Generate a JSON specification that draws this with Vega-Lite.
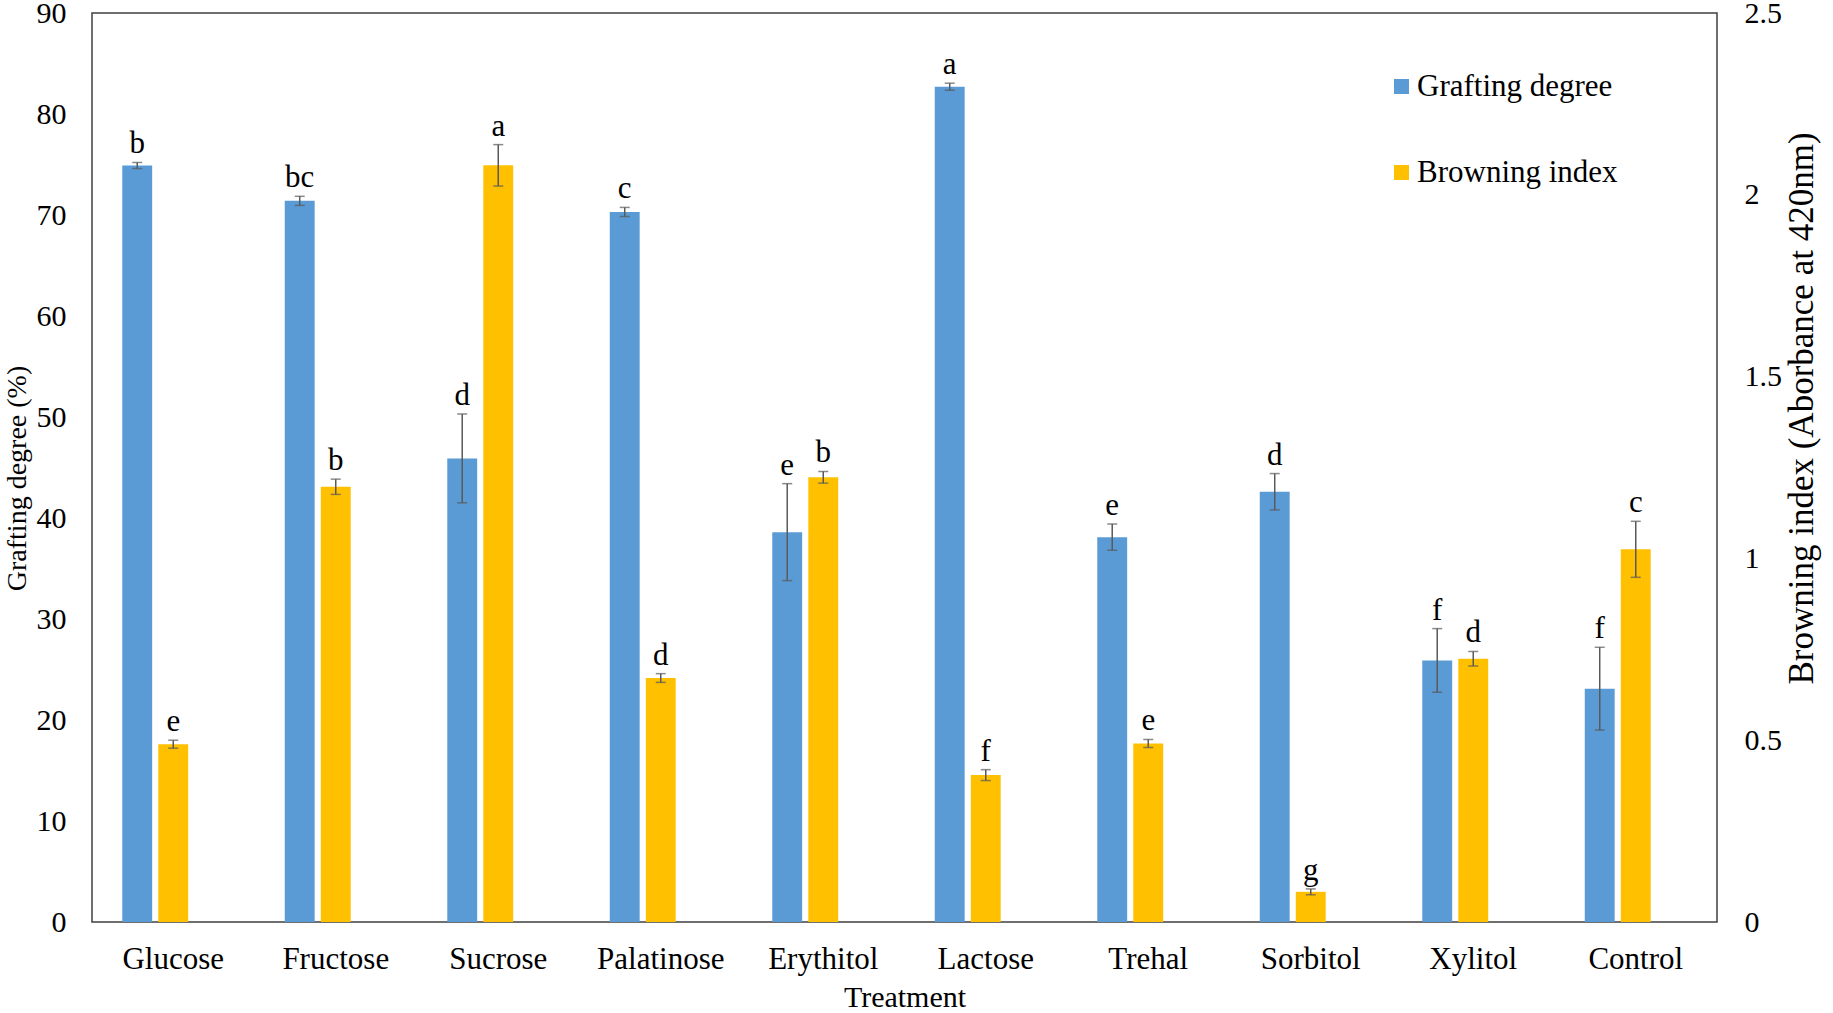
{
  "$schema": "https://vega.github.io/schema/vega-lite/v6.json",
  "width": 1625,
  "height": 909,
  "autosize": {"type": "none"},
  "padding": {"left": 92, "top": 13, "right": 116, "bottom": 91},
  "background": "white",
  "config": {
    "view": {"stroke": "#404040", "strokeWidth": 1.5},
    "font": "Liberation Serif",
    "axis": {"labelFont": "Liberation Serif", "titleFont": "Liberation Serif", "labelColor": "#000", "titleColor": "#000", "titleFontWeight": "normal", "ticks": false, "domain": false, "grid": false}
  },
  "data": {
    "values": [
      {"treatment": "Glucose", "series": "Grafting degree", "value": 74.9, "lo": 74.6, "hi": 75.2, "letter": "b"},
      {"treatment": "Fructose", "series": "Grafting degree", "value": 71.4, "lo": 70.95, "hi": 71.85, "letter": "bc"},
      {"treatment": "Sucrose", "series": "Grafting degree", "value": 45.9, "lo": 41.5, "hi": 50.3, "letter": "d"},
      {"treatment": "Palatinose", "series": "Grafting degree", "value": 70.3, "lo": 69.85, "hi": 70.75, "letter": "c"},
      {"treatment": "Erythitol", "series": "Grafting degree", "value": 38.6, "lo": 33.8, "hi": 43.4, "letter": "e"},
      {"treatment": "Lactose", "series": "Grafting degree", "value": 82.7, "lo": 82.35, "hi": 83.05, "letter": "a"},
      {"treatment": "Trehal", "series": "Grafting degree", "value": 38.1, "lo": 36.8, "hi": 39.4, "letter": "e"},
      {"treatment": "Sorbitol", "series": "Grafting degree", "value": 42.6, "lo": 40.8, "hi": 44.4, "letter": "d"},
      {"treatment": "Xylitol", "series": "Grafting degree", "value": 25.9, "lo": 22.75, "hi": 29.05, "letter": "f"},
      {"treatment": "Control", "series": "Grafting degree", "value": 23.1, "lo": 19.0, "hi": 27.2, "letter": "f"},
      {"treatment": "Glucose", "series": "Browning index", "value": 0.489, "lo": 0.478, "hi": 0.5, "letter": "e"},
      {"treatment": "Fructose", "series": "Browning index", "value": 1.197, "lo": 1.176, "hi": 1.218, "letter": "b"},
      {"treatment": "Sucrose", "series": "Browning index", "value": 2.081, "lo": 2.024, "hi": 2.138, "letter": "a"},
      {"treatment": "Palatinose", "series": "Browning index", "value": 0.671, "lo": 0.659, "hi": 0.683, "letter": "d"},
      {"treatment": "Erythitol", "series": "Browning index", "value": 1.223, "lo": 1.207, "hi": 1.239, "letter": "b"},
      {"treatment": "Lactose", "series": "Browning index", "value": 0.404, "lo": 0.389, "hi": 0.419, "letter": "f"},
      {"treatment": "Trehal", "series": "Browning index", "value": 0.491, "lo": 0.48, "hi": 0.502, "letter": "e"},
      {"treatment": "Sorbitol", "series": "Browning index", "value": 0.083, "lo": 0.075, "hi": 0.091, "letter": "g"},
      {"treatment": "Xylitol", "series": "Browning index", "value": 0.724, "lo": 0.704, "hi": 0.744, "letter": "d"},
      {"treatment": "Control", "series": "Browning index", "value": 1.025, "lo": 0.948, "hi": 1.102, "letter": "c"}
    ]
  },
  "encoding": {
    "x": {
      "field": "treatment", "type": "nominal",
      "scale": {"domain": ["Glucose", "Fructose", "Sucrose", "Palatinose", "Erythitol", "Lactose", "Trehal", "Sorbitol", "Xylitol", "Control"], "paddingInner": 0, "paddingOuter": 0},
      "axis": {"title": "Treatment", "labelAngle": 0, "labelFontSize": 31, "labelPadding": 22, "titleFontSize": 30, "titleY": 84, "titleBaseline": "alphabetic"}
    },
    "xOffset": {
      "field": "series", "type": "nominal",
      "scale": {"domain": ["Grafting degree", "Browning index", "pad"], "paddingInner": 0.17, "paddingOuter": 0.84}
    }
  },
  "layer": [
    {
      "transform": [{"filter": "datum.series === 'Grafting degree'"}],
      "layer": [
        {
          "mark": {"type": "bar"},
          "encoding": {
            "y": {"field": "value", "type": "quantitative", "scale": {"domain": [0, 90], "nice": false},
              "axis": {"title": "Grafting degree (%)", "values": [0, 10, 20, 30, 40, 50, 60, 70, 80, 90], "labelFontSize": 30, "labelPadding": 26, "titleFontSize": 28, "titleAngle": -90, "titleX": -61, "titleY": 465, "titleBaseline": "bottom"}},
            "color": {"field": "series", "type": "nominal",
              "scale": {"domain": ["Grafting degree", "Browning index"], "range": ["#5B9BD5", "#FFC000"]},
              "legend": {"orient": "none", "legendX": 1294, "legendY": 58, "title": null, "direction": "vertical", "symbolType": "square", "symbolSize": 225, "symbolStrokeWidth": 0, "symbolOpacity": 1, "labelFont": "Liberation Serif", "labelFontSize": 31, "labelColor": "#000", "labelOffset": 0, "rowPadding": 54, "labelLimit": 500, "padding": 0}}
          }
        },
        {
          "mark": {"type": "rule", "color": "#595959", "strokeWidth": 1.5},
          "encoding": {"y": {"field": "lo", "type": "quantitative", "scale": {"domain": [0, 90], "nice": false}, "axis": {"title": "Grafting degree (%)", "values": [0, 10, 20, 30, 40, 50, 60, 70, 80, 90], "labelFontSize": 30, "labelPadding": 26, "titleFontSize": 28, "titleAngle": -90, "titleX": -61, "titleY": 465, "titleBaseline": "bottom"}}, "y2": {"field": "hi"}}
        },
        {
          "mark": {"type": "tick", "color": "#595959", "size": 10, "thickness": 1.5},
          "encoding": {"y": {"field": "lo", "type": "quantitative", "scale": {"domain": [0, 90], "nice": false}, "axis": {"title": "Grafting degree (%)", "values": [0, 10, 20, 30, 40, 50, 60, 70, 80, 90], "labelFontSize": 30, "labelPadding": 26, "titleFontSize": 28, "titleAngle": -90, "titleX": -61, "titleY": 465, "titleBaseline": "bottom"}}}
        },
        {
          "mark": {"type": "tick", "color": "#595959", "size": 10, "thickness": 1.5},
          "encoding": {"y": {"field": "hi", "type": "quantitative", "scale": {"domain": [0, 90], "nice": false}, "axis": {"title": "Grafting degree (%)", "values": [0, 10, 20, 30, 40, 50, 60, 70, 80, 90], "labelFontSize": 30, "labelPadding": 26, "titleFontSize": 28, "titleAngle": -90, "titleX": -61, "titleY": 465, "titleBaseline": "bottom"}}}
        },
        {
          "mark": {"type": "text", "font": "Liberation Serif", "fontSize": 31, "dy": -9, "baseline": "alphabetic", "color": "#000"},
          "encoding": {"y": {"field": "hi", "type": "quantitative", "scale": {"domain": [0, 90], "nice": false}, "axis": {"title": "Grafting degree (%)", "values": [0, 10, 20, 30, 40, 50, 60, 70, 80, 90], "labelFontSize": 30, "labelPadding": 26, "titleFontSize": 28, "titleAngle": -90, "titleX": -61, "titleY": 465, "titleBaseline": "bottom"}}, "text": {"field": "letter"}}
        }
      ]
    },
    {
      "transform": [{"filter": "datum.series === 'Browning index'"}],
      "layer": [
        {
          "mark": {"type": "bar"},
          "encoding": {
            "y": {"field": "value", "type": "quantitative", "scale": {"domain": [0, 2.5], "nice": false},
              "axis": {"orient": "right", "title": "Browning index (Aborbance at 420nm)", "values": [0, 0.5, 1, 1.5, 2, 2.5], "format": "~g", "labelFontSize": 30, "labelPadding": 27, "titleFontSize": 35, "titleAngle": -90, "titleX": 102, "titleY": 395, "titleBaseline": "bottom"}},
            "color": {"field": "series", "type": "nominal",
              "scale": {"domain": ["Grafting degree", "Browning index"], "range": ["#5B9BD5", "#FFC000"]},
              "legend": {"orient": "none", "legendX": 1294, "legendY": 58, "title": null, "direction": "vertical", "symbolType": "square", "symbolSize": 225, "symbolStrokeWidth": 0, "symbolOpacity": 1, "labelFont": "Liberation Serif", "labelFontSize": 31, "labelColor": "#000", "labelOffset": 0, "rowPadding": 54, "labelLimit": 500, "padding": 0}}
          }
        },
        {
          "mark": {"type": "rule", "color": "#595959", "strokeWidth": 1.5},
          "encoding": {"y": {"field": "lo", "type": "quantitative", "scale": {"domain": [0, 2.5], "nice": false}, "axis": {"orient": "right", "title": "Browning index (Aborbance at 420nm)", "values": [0, 0.5, 1, 1.5, 2, 2.5], "format": "~g", "labelFontSize": 30, "labelPadding": 27, "titleFontSize": 35, "titleAngle": -90, "titleX": 102, "titleY": 395, "titleBaseline": "bottom"}}, "y2": {"field": "hi"}}
        },
        {
          "mark": {"type": "tick", "color": "#595959", "size": 10, "thickness": 1.5},
          "encoding": {"y": {"field": "lo", "type": "quantitative", "scale": {"domain": [0, 2.5], "nice": false}, "axis": {"orient": "right", "title": "Browning index (Aborbance at 420nm)", "values": [0, 0.5, 1, 1.5, 2, 2.5], "format": "~g", "labelFontSize": 30, "labelPadding": 27, "titleFontSize": 35, "titleAngle": -90, "titleX": 102, "titleY": 395, "titleBaseline": "bottom"}}}
        },
        {
          "mark": {"type": "tick", "color": "#595959", "size": 10, "thickness": 1.5},
          "encoding": {"y": {"field": "hi", "type": "quantitative", "scale": {"domain": [0, 2.5], "nice": false}, "axis": {"orient": "right", "title": "Browning index (Aborbance at 420nm)", "values": [0, 0.5, 1, 1.5, 2, 2.5], "format": "~g", "labelFontSize": 30, "labelPadding": 27, "titleFontSize": 35, "titleAngle": -90, "titleX": 102, "titleY": 395, "titleBaseline": "bottom"}}}
        },
        {
          "mark": {"type": "text", "font": "Liberation Serif", "fontSize": 31, "dy": -9, "baseline": "alphabetic", "color": "#000"},
          "encoding": {"y": {"field": "hi", "type": "quantitative", "scale": {"domain": [0, 2.5], "nice": false}, "axis": {"orient": "right", "title": "Browning index (Aborbance at 420nm)", "values": [0, 0.5, 1, 1.5, 2, 2.5], "format": "~g", "labelFontSize": 30, "labelPadding": 27, "titleFontSize": 35, "titleAngle": -90, "titleX": 102, "titleY": 395, "titleBaseline": "bottom"}}, "text": {"field": "letter"}}
        }
      ]
    }
  ],
  "resolve": {"scale": {"y": "independent"}}
}
